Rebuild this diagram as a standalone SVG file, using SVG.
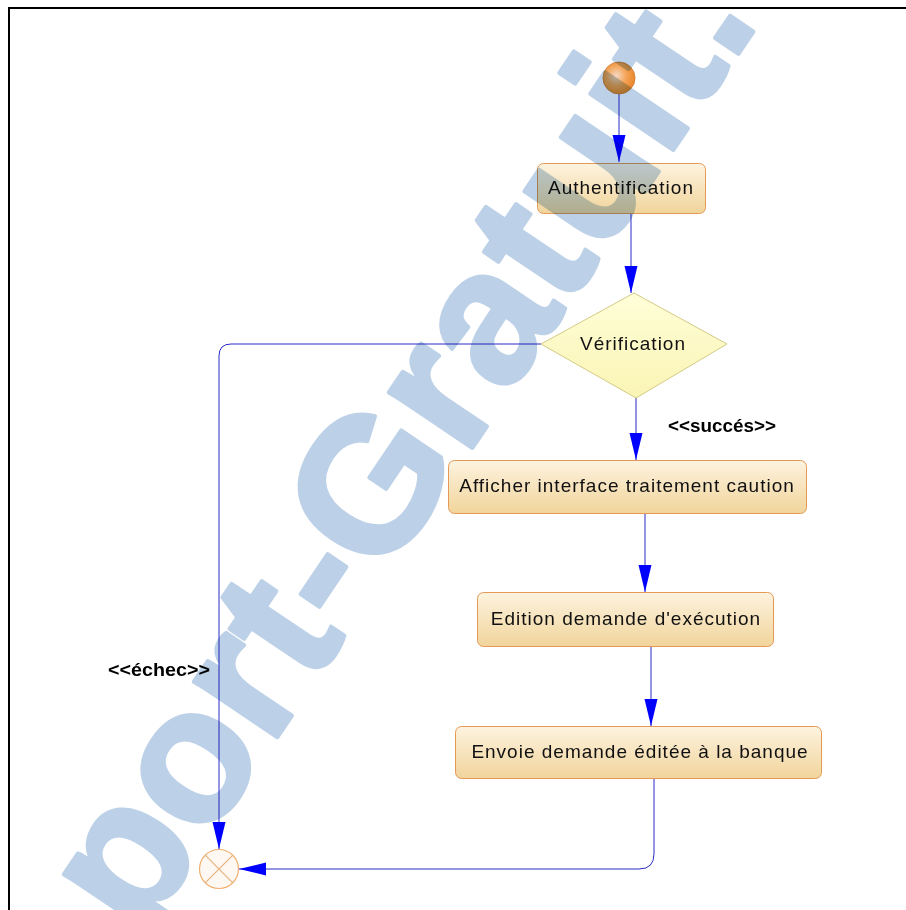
<svg xmlns="http://www.w3.org/2000/svg" width="906" height="910" viewBox="0 0 906 910">
  <style>
    .act { stroke: #e49a55; stroke-width: 1; fill: url(#actFill); }
    .lbl { font-family: "Liberation Sans", Arial, sans-serif; font-size: 19px; letter-spacing: 1px; fill: #111; text-anchor: middle; }
    .stereo { font-family: "Liberation Sans", Arial, sans-serif; font-size: 18px; font-weight: bold; fill: #000; }
    .flow { fill: none; stroke: #2b2bc8; stroke-width: 1; marker-end: url(#arrow); }
    .mark { font-family: "Liberation Sans", Arial, sans-serif; font-weight: bold; font-size: 190px; fill: #bcd1e8; stroke: #bcd1e8; stroke-width: 4; stroke-linejoin: round; mix-blend-mode: multiply; }
  </style>
  <defs>
    <linearGradient id="actFill" x1="0" y1="0" x2="0" y2="1">
      <stop offset="0" stop-color="#fdf3df"/>
      <stop offset="1" stop-color="#f1d49b"/>
    </linearGradient>
    <linearGradient id="decFill" x1="0" y1="0" x2="0" y2="1">
      <stop offset="0" stop-color="#fffed8"/>
      <stop offset="1" stop-color="#faf4b4"/>
    </linearGradient>
    <radialGradient id="startFill" cx="0.42" cy="0.42" r="0.62">
      <stop offset="0" stop-color="#f6d8c0"/>
      <stop offset="0.5" stop-color="#f3a458"/>
      <stop offset="1" stop-color="#ea8426"/>
    </radialGradient>
    <marker id="arrow" markerUnits="userSpaceOnUse" markerWidth="28" markerHeight="14" refX="27" refY="7" orient="auto">
      <path d="M0,0.5 L27,7 L0,13.5 Z" fill="#0000ff"/>
    </marker>
  </defs>

  <rect width="906" height="910" fill="#fff"/>
  <!-- page frame -->
  <path d="M9,910 V8 H906" fill="none" stroke="#000" stroke-width="2"/>

  <!-- connectors -->
  <g id="connectors">
    <path class="flow" d="M619,94 V162"/>
    <path class="flow" d="M631,214 V293"/>
    <path class="flow" d="M636,398 V460"/>
    <path class="flow" d="M645,514 V592"/>
    <path class="flow" d="M651,647 V726"/>
    <path class="flow" d="M541,344 H231 Q219,344 219,356 V849"/>
    <path class="flow" d="M654,779 V854 Q654,869 639,869 H239"/>
    <text class="stereo" x="668" y="432" textLength="108" lengthAdjust="spacingAndGlyphs">&lt;&lt;succés&gt;&gt;</text>
    <text class="stereo" x="108" y="676" textLength="102" lengthAdjust="spacingAndGlyphs">&lt;&lt;échec&gt;&gt;</text>
  </g>

  <g id="start">
    <circle cx="619" cy="78" r="16" fill="url(#startFill)" stroke="#d3843e" stroke-width="1"/>
  </g>

  <g id="authentification">
    <rect class="act" x="537.5" y="163.5" width="168" height="50" rx="6"/>
    <text class="lbl" x="621" y="194">Authentification</text>
  </g>

  <g id="verification">
    <path d="M541,344 L634,293 L727,344 L636,398 Z" fill="url(#decFill)" stroke="#d4ca86" stroke-width="1"/>
    <text class="lbl" x="633" y="350">Vérification</text>
  </g>

  <g id="afficher">
    <rect class="act" x="448.5" y="460.5" width="358" height="53" rx="6"/>
    <text class="lbl" x="627" y="492">Afficher interface traitement caution</text>
  </g>

  <g id="edition">
    <rect class="act" x="477.5" y="592.5" width="296" height="54" rx="6"/>
    <text class="lbl" x="626" y="625">Edition demande d'exécution</text>
  </g>

  <g id="envoie">
    <rect class="act" x="455.5" y="726.5" width="366" height="52" rx="6"/>
    <text class="lbl" x="640" y="758">Envoie demande éditée à la banque</text>
  </g>

  <g id="end">
    <circle cx="219" cy="869" r="19.5" fill="#fdf8f2" stroke="#efb071" stroke-width="1.2"/>
    <path d="M205.2,855.2 L232.8,882.8 M232.8,855.2 L205.2,882.8" stroke="#e9b27e" stroke-width="1.2"/>
  </g>

  <!-- watermark lettering -->
  <text class="mark" transform="translate(140,941) rotate(-56)" textLength="1110" lengthAdjust="spacing">port-Gratuit.</text>
</svg>
